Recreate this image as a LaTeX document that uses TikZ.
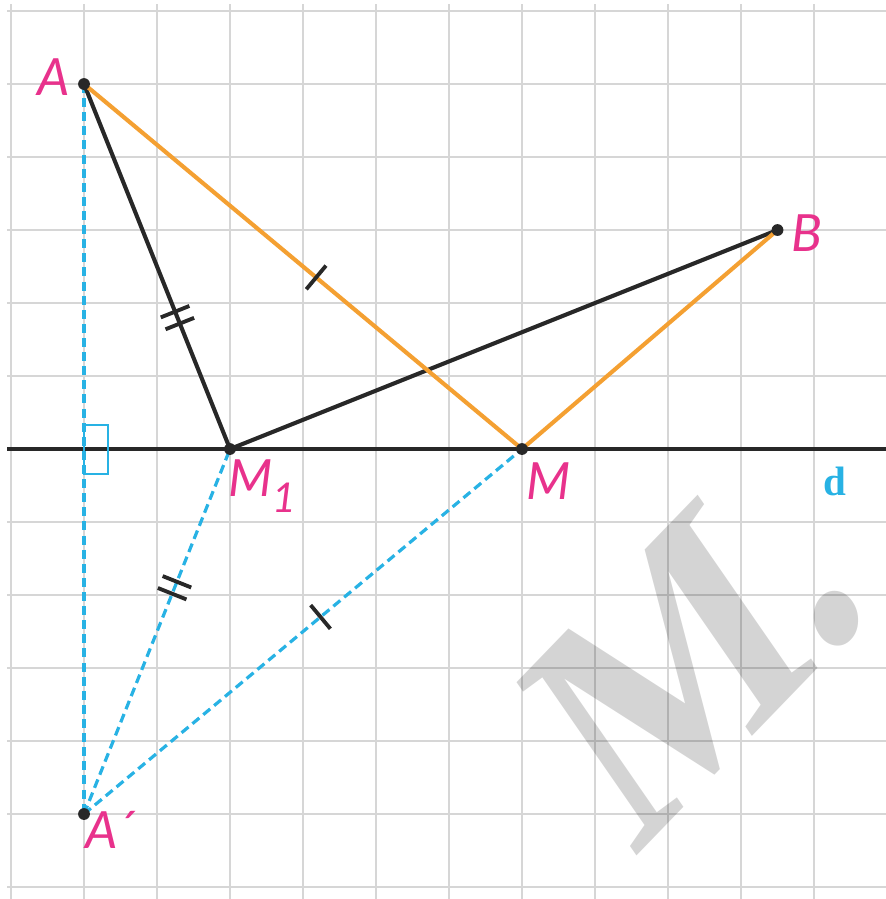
\documentclass[tikz,border=0pt]{standalone}
\usepackage{fontspec}
\setsansfont{Lato}
\newfontfamily\wmfont{Liberation Serif}
\usetikzlibrary{calc,decorations.markings}
\definecolor{ptpink}{RGB}{232,50,140}
\definecolor{segorange}{RGB}{244,160,50}
\definecolor{symcyan}{RGB}{40,178,228}
\definecolor{gridgray}{RGB}{214,214,214}
\definecolor{inkblack}{RGB}{40,40,40}

\begin{document}
\begin{tikzpicture}[
  gridline/.style={gridgray, line width=1.1pt},
  dline/.style={inkblack, line width=1.2pt},
  blackseg/.style={inkblack, line width=1.6pt},
  orangeseg/.style={segorange, line width=1.6pt},
  cyanseg/.style={symcyan, line width=1.25pt, dash pattern=on 3.5pt off 2pt},
  rightmark/.style={symcyan, line width=0.8pt},
  tickline/.style={inkblack, line width=1.5pt, solid},
  onetick/.style={postaction={decorate}, decoration={markings,
    mark=at position #1 with {\draw[tickline] (0,-6pt) -- (0,6pt);}}},
  twotick/.style={postaction={decorate}, decoration={markings,
    mark=at position #1 with {\draw[tickline] (-2.5pt,-6pt) -- (-2.5pt,6pt) (2.5pt,-6pt) -- (2.5pt,6pt);}}},
  ptlabel/.style={ptpink, font=\fontsize{20}{24}\selectfont\sffamily\itshape, inner sep=0pt},
  dlabel/.style={symcyan, font=\fontsize{16}{20}\selectfont\wmfont\bfseries, inner sep=0pt},
  watermark/.style={text=black, text opacity=0.17, font=\fontsize{123}{123}\selectfont\wmfont\bfseries, inner sep=0pt}
]
\useasboundingbox (-1.151,-1.164) rectangle (10.986,11.151);

\draw[gridline] (-1.05,-1.2) grid (11.05,11.1);

\begin{scope}[shift={(7.52,-0.63)}, rotate=46, xslant=0.2, xscale=0.92, transform shape]
  \node[watermark, anchor=base west] (wm) at (0,0) {M.};
\end{scope}

\coordinate (A) at (0,10);
\coordinate (Ap) at (0,0);
\coordinate (M1) at (2,5);
\coordinate (M) at (6,5);
\coordinate (B) at (9.5,8);
\coordinate (dL) at (-1.05,5);
\coordinate (dR) at (11,5);

\draw[dline] (dL) -- (dR);
\draw[rightmark] (0,4.66) rectangle (0.33,5.33);

\draw[cyanseg] (A) -- (Ap);
\draw[cyanseg, twotick=0.62] (Ap) -- (M1);
\draw[cyanseg, onetick=0.54] (Ap) -- (M);

\draw[blackseg, twotick=0.64] (A) -- (M1);
\draw[blackseg] (M1) -- (B);
\draw[orangeseg, onetick=0.53] (A) -- (M);
\draw[orangeseg] (M) -- (B);

\foreach \p in {A,Ap,M1,M,B}
  \fill[inkblack] (\p) circle (2.3pt);

\node[ptlabel] (labA) at ($(A)+(-0.41,0.10)$) {A};
\node[ptlabel] (labB) at ($(B)+(0.40,-0.04)$) {B};
\node[ptlabel] (labM1) at ($(M1)+(0.44,-0.51)$) {M\raisebox{-6pt}{\fontsize{16}{16}\selectfont 1}};
\node[ptlabel] (labM) at ($(M)+(0.36,-0.44)$) {M};
\node[ptlabel] (labAp) at ($(Ap)+(0.35,-0.22)$) {A\kern-1pt´};
\node[dlabel] (labd) at (10.29,4.55) {d};

\end{tikzpicture}
\end{document}
